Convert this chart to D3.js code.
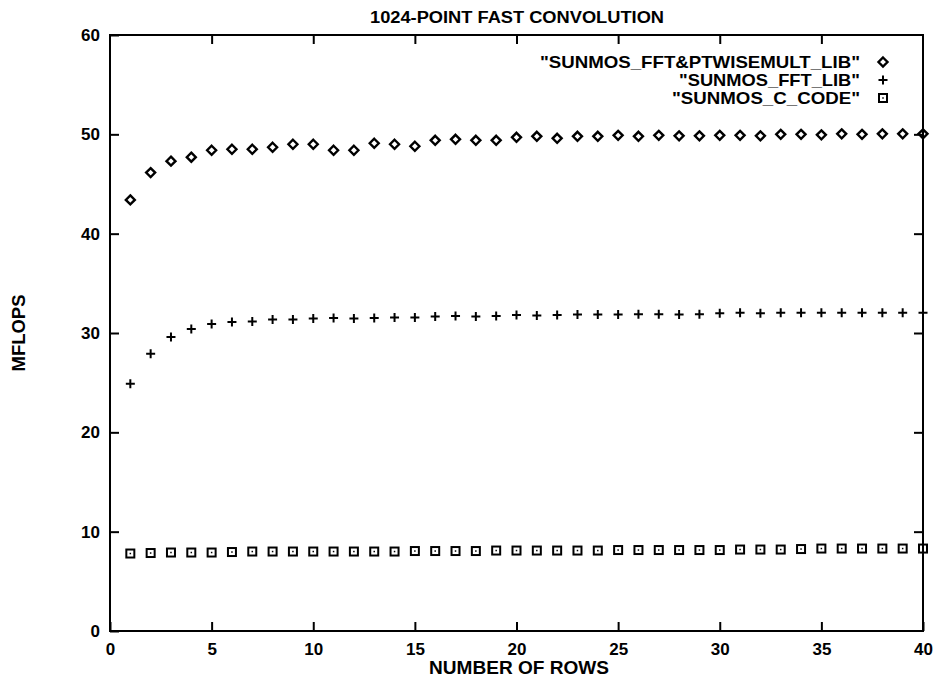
<!DOCTYPE html>
<html><head><meta charset="utf-8">
<script src="https://cdn.jsdelivr.net/npm/d3@7"></script>
<style>
html,body{margin:0;padding:0;background:#fff;}
svg text{font-family:"Liberation Sans",Arial,Helvetica,sans-serif;font-weight:bold;fill:#000;}
</style></head>
<body>
<svg id="chart" width="938" height="679"></svg>
<script>
const rows = d3.range(1, 41);
const fftPtwise = [43.4,46.15,47.3,47.7,48.4,48.5,48.5,48.7,49.0,49.0,48.4,48.4,49.1,49.0,48.8,49.4,49.5,49.4,49.4,49.7,
  49.8,49.6,49.8,49.8,49.9,49.8,49.9,49.85,49.85,49.9,49.9,49.85,50.0,50.0,49.95,50.05,50.0,50.05,50.05,50.05];
const fftLib = [24.9,27.9,29.6,30.4,30.9,31.1,31.15,31.35,31.35,31.45,31.5,31.45,31.5,31.55,31.55,31.65,31.7,31.65,31.7,31.8,
  31.75,31.8,31.85,31.85,31.85,31.9,31.9,31.85,31.9,32.0,32.05,32.0,32.05,32.05,32.05,32.05,32.05,32.05,32.05,32.05];
const cCode = [7.8,7.85,7.9,7.9,7.9,7.95,8.0,8.0,8.0,8.0,8.0,8.0,8.0,8.0,8.05,8.05,8.05,8.05,8.1,8.1,
  8.1,8.1,8.1,8.1,8.15,8.15,8.15,8.15,8.15,8.15,8.2,8.2,8.2,8.25,8.3,8.3,8.3,8.3,8.3,8.3];
const seriesNames = ['"SUNMOS_FFT&PTWISEMULT_LIB"', '"SUNMOS_FFT_LIB"', '"SUNMOS_C_CODE"'];
const xTicks = [0,5,10,15,20,25,30,35,40];
const yTicks = [0,10,20,30,40,50,60];
const title = "1024-POINT FAST CONVOLUTION";
const xLabel = "NUMBER OF ROWS";
const yLabel = "MFLOPS";

const svg = d3.select("#chart");
const L = 110, R = 923, T = 35, B = 631;
const x = d3.scaleLinear().domain([0, 40]).range([L, R]);
const y = d3.scaleLinear().domain([0, 60]).range([B, T]);

const tickLen = 9;
const gx = svg.append("g").attr("transform", `translate(0,${B})`)
  .call(d3.axisBottom(x).tickValues(xTicks).tickSize(-tickLen).tickPadding(12).tickFormat(d3.format("d")));
gx.select(".domain").remove();
gx.selectAll("text").attr("font-size", 17);
const gxt = svg.append("g").attr("transform", `translate(0,${T})`)
  .call(d3.axisTop(x).tickValues(xTicks.slice(1, -1)).tickSize(-tickLen).tickFormat(""));
gxt.select(".domain").remove();
const gy = svg.append("g").attr("transform", `translate(${L},0)`)
  .call(d3.axisLeft(y).tickValues(yTicks).tickSize(-tickLen).tickPadding(10).tickFormat(d3.format("d")));
gy.select(".domain").remove();
gy.selectAll("text").attr("font-size", 17);
const gyr = svg.append("g").attr("transform", `translate(${R},0)`)
  .call(d3.axisRight(y).tickValues(yTicks.slice(1, -1)).tickSize(-tickLen).tickFormat(""));
gyr.select(".domain").remove();
svg.selectAll(".tick line").attr("stroke", "#000").attr("stroke-width", 2);

svg.append("rect").attr("x", L).attr("y", T).attr("width", R - L).attr("height", B - T)
  .attr("fill", "none").attr("stroke", "#000").attr("stroke-width", 2);

svg.append("text").attr("x", 517).attr("y", 23).attr("text-anchor", "middle").attr("font-size", 16)
  .attr("textLength", 294).attr("lengthAdjust", "spacingAndGlyphs").text(title);
svg.append("text").attr("x", 519).attr("y", 674).attr("text-anchor", "middle").attr("font-size", 18)
  .attr("textLength", 180).attr("lengthAdjust", "spacingAndGlyphs").text(xLabel);
svg.append("text").attr("transform", "translate(25,333) rotate(-90)").attr("text-anchor", "middle").attr("font-size", 18)
  .attr("textLength", 77).attr("lengthAdjust", "spacingAndGlyphs").text(yLabel);

function diamond(g, cx, cy) {
  g.append("path").attr("d", `M${cx},${cy-4.5}L${cx+4.5},${cy}L${cx},${cy+4.5}L${cx-4.5},${cy}Z`)
    .attr("fill", "none").attr("stroke", "#000").attr("stroke-width", 2.4);
}
function plus(g, cx, cy) {
  g.append("path").attr("d", `M${cx-4.5},${cy}H${cx+4.5}M${cx},${cy-4.5}V${cy+4.5}`)
    .attr("fill", "none").attr("stroke", "#000").attr("stroke-width", 2);
}
function square(g, cx, cy) {
  g.append("rect").attr("x", cx - 4).attr("y", cy - 4).attr("width", 8).attr("height", 8)
    .attr("fill", "none").attr("stroke", "#000").attr("stroke-width", 2);
  g.append("rect").attr("x", cx - 0.75).attr("y", cy - 0.75).attr("width", 1.5).attr("height", 1.5).attr("fill", "#000");
}
const drawers = [diamond, plus, square];
const series = [fftPtwise, fftLib, cCode];

series.forEach((vals, i) => {
  const g = svg.append("g");
  vals.forEach((v, j) => drawers[i](g, x(rows[j]), y(v)));
});

const legY = [62, 80, 98];
const legW = [320, 181, 188];
seriesNames.forEach((name, i) => {
  svg.append("text").attr("x", 860).attr("y", legY[i]).attr("dy", "0.36em")
    .attr("text-anchor", "end").attr("font-size", 17)
    .attr("textLength", legW[i]).attr("lengthAdjust", "spacingAndGlyphs").text(name);
  drawers[i](svg.append("g"), 883, legY[i]);
});
</script>
</body></html>
